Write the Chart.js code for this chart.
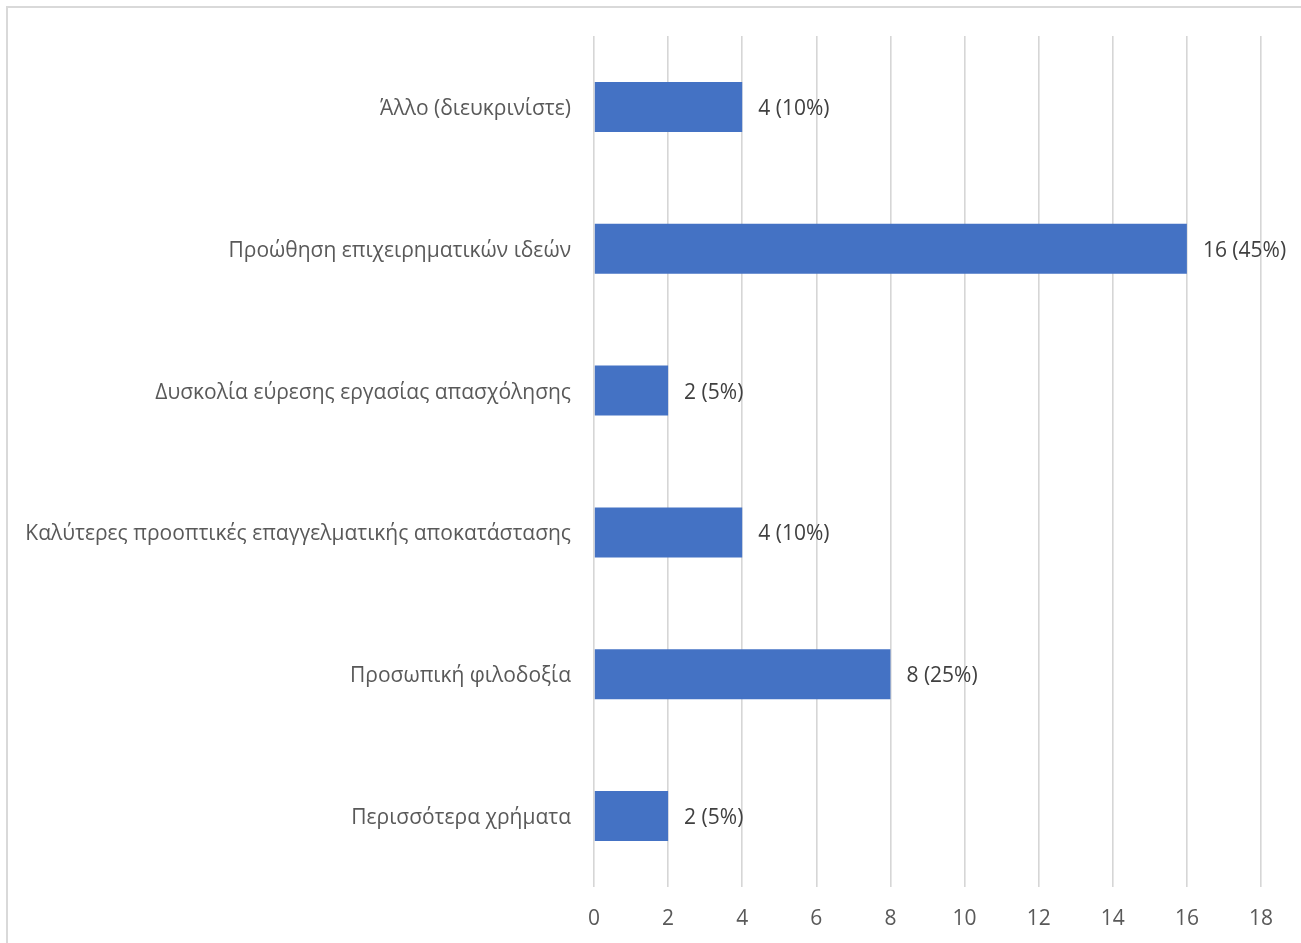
<!DOCTYPE html>
<html>
<head>
<meta charset="utf-8">
<script src="https://cdn.jsdelivr.net/npm/chart.js@4/dist/chart.umd.min.js"></script>
<style>
html,body{margin:0;padding:0;background:#fff;}
#wrap{position:absolute;left:0;top:0;width:1301px;height:943px;}
</style>
</head>
<body>
<div id="wrap"><canvas id="c" width="1301" height="943"></canvas></div>
<script>
const categories = [
  "Άλλο (διευκρινίστε)",
  "Προώθηση επιχειρηματικών ιδεών",
  "Δυσκολία εύρεσης εργασίας απασχόλησης",
  "Καλύτερες προοπτικές επαγγελματικής αποκατάστασης",
  "Προσωπική φιλοδοξία",
  "Περισσότερα χρήματα"
];
const counts = [4, 16, 2, 4, 8, 2];
const percents = [10, 45, 5, 10, 25, 5];
const xTicks = [0, 2, 4, 6, 8, 10, 12, 14, 16, 18];

const FONT = "'Open Sans', 'Noto Sans', sans-serif";

const frame = {
  id: 'frame',
  beforeDraw(chart) {
    const ctx = chart.ctx;
    ctx.save();
    ctx.strokeStyle = '#d9d9d9';
    ctx.lineWidth = 2;
    ctx.strokeRect(7, 7, 1310, 950);
    ctx.restore();
  }
};

const valueLabels = {
  id: 'valueLabels',
  afterDatasetsDraw(chart) {
    const ctx = chart.ctx;
    const meta = chart.getDatasetMeta(0);
    ctx.save();
    ctx.font = "21px " + FONT;
    ctx.fillStyle = '#404040';
    ctx.textAlign = 'left';
    ctx.textBaseline = 'middle';
    meta.data.forEach((bar, i) => {
      ctx.fillText(counts[i] + ' (' + percents[i] + '%)', bar.x + 16, bar.y + 2);
    });
    ctx.restore();
  }
};

new Chart(document.getElementById('c'), {
  type: 'bar',
  data: {
    labels: categories,
    datasets: [{
      data: counts,
      backgroundColor: '#4472C4',
      borderWidth: 0,
      barPercentage: 1,
      categoryPercentage: 0.353
    }]
  },
  options: {
    indexAxis: 'y',
    responsive: false,
    animation: false,
    layout: { padding: { top: 36, right: 40, left: 0, bottom: 0 } },
    plugins: { legend: { display: false }, tooltip: { enabled: false } },
    scales: {
      x: {
        min: 0, max: 18,
        afterBuildTicks(scale) { scale.ticks = xTicks.map(v => ({ value: v })); },
        afterFit(scale) { scale.height = 56; },
        grid: { color: '#d6d6d6', lineWidth: 1.6, drawTicks: false },
        border: { display: false },
        ticks: { font: { size: 21, family: FONT }, color: '#595959', padding: 19 }
      },
      y: {
        afterFit(scale) { scale.width = 594; },
        grid: { display: false, drawTicks: false },
        border: { display: false },
        ticks: {
          font: { size: 21, family: FONT }, color: '#595959', padding: 23, labelOffset: 2,
          callback(v, i) { return categories[i]; }
        }
      }
    }
  },
  plugins: [frame, valueLabels]
});
</script>
</body>
</html>
